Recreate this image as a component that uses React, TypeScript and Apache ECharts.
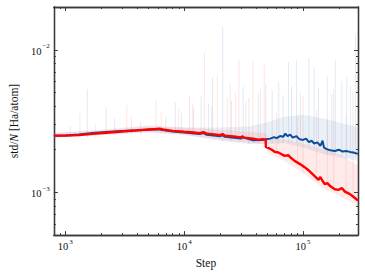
import React, { useEffect, useRef } from "react";
import * as echarts from "echarts";

const FONT = '"Liberation Serif", "DejaVu Serif", "Times New Roman", serif';

// Main (smoothed) curves
const redSteps = [800, 1000, 1300, 1700, 2200, 3000, 4000, 5000, 5800, 6200, 6600, 8000, 10000, 12000, 13500, 14500, 15500, 18000, 20000, 21000, 22000, 26000, 30000, 31000, 32000, 38000, 42000, 46000, 48500, 48600, 52000, 55000, 58000, 62000, 66000, 70000, 75000, 78000, 85000, 95000, 103000, 112000, 124000, 135000, 140000, 146000, 152000, 160000, 170000, 185000, 200000, 212000, 225000, 248000, 265000, 290000];
const redValues = [2.5e-3, 2.5e-3, 2.52e-3, 2.57e-3, 2.62e-3, 2.67e-3, 2.72e-3, 2.76e-3, 2.78e-3, 2.8e-3, 2.76e-3, 2.7e-3, 2.66e-3, 2.63e-3, 2.6e-3, 2.64e-3, 2.58e-3, 2.55e-3, 2.52e-3, 2.56e-3, 2.5e-3, 2.47e-3, 2.43e-3, 2.47e-3, 2.42e-3, 2.38e-3, 2.34e-3, 2.36e-3, 2.33e-3, 2.08e-3, 2.03e-3, 1.98e-3, 1.92e-3, 1.9e-3, 1.85e-3, 1.8e-3, 1.82e-3, 1.76e-3, 1.66e-3, 1.57e-3, 1.5e-3, 1.42e-3, 1.31e-3, 1.22e-3, 1.28e-3, 1.2e-3, 1.14e-3, 1.16e-3, 1.1e-3, 1.05e-3, 1.04e-3, 1.07e-3, 1.01e-3, 0.97e-3, 0.93e-3, 0.875e-3];

const blueSteps = [800, 1000, 1300, 1700, 2200, 3000, 4000, 5000, 6000, 6600, 8000, 10000, 13500, 14500, 15500, 20000, 21000, 22000, 30000, 31000, 38000, 45000, 49000, 53000, 57000, 60000, 64000, 68000, 71000, 74000, 78000, 82000, 88000, 93000, 100000, 106000, 112000, 118000, 124000, 132000, 140000, 146000, 150000, 160000, 170000, 185000, 200000, 215000, 230000, 248000, 265000, 290000];
const blueValues = [2.49e-3, 2.5e-3, 2.54e-3, 2.61e-3, 2.65e-3, 2.69e-3, 2.72e-3, 2.75e-3, 2.77e-3, 2.74e-3, 2.67e-3, 2.63e-3, 2.56e-3, 2.6e-3, 2.53e-3, 2.47e-3, 2.52e-3, 2.45e-3, 2.38e-3, 2.43e-3, 2.32e-3, 2.33e-3, 2.36e-3, 2.38e-3, 2.44e-3, 2.4e-3, 2.48e-3, 2.45e-3, 2.58e-3, 2.48e-3, 2.54e-3, 2.42e-3, 2.48e-3, 2.36e-3, 2.33e-3, 2.38e-3, 2.25e-3, 2.3e-3, 2.2e-3, 2.24e-3, 2.12e-3, 2.3e-3, 2.06e-3, 2.0e-3, 1.97e-3, 1.95e-3, 1.99e-3, 1.93e-3, 1.95e-3, 1.92e-3, 1.9e-3, 1.86e-3];

// Faint raw-data envelopes
const blueBandSteps = [800, 2000, 5000, 10000, 20000, 35000, 50000, 70000, 100000, 150000, 200000, 290000];
const blueBandLow = [2.42e-3, 2.52e-3, 2.64e-3, 2.52e-3, 2.3e-3, 2.18e-3, 2.18e-3, 2.22e-3, 2.05e-3, 1.85e-3, 1.76e-3, 1.66e-3];
const blueBandHigh = [2.6e-3, 2.72e-3, 2.9e-3, 2.85e-3, 2.85e-3, 2.9e-3, 3.1e-3, 3.4e-3, 3.5e-3, 3.3e-3, 3.1e-3, 2.85e-3];

const redBandSteps = [800, 2000, 5000, 10000, 20000, 35000, 48500, 50000, 70000, 100000, 150000, 200000, 290000];
const redBandLow = [2.42e-3, 2.52e-3, 2.64e-3, 2.52e-3, 2.35e-3, 2.22e-3, 2.18e-3, 1.9e-3, 1.65e-3, 1.36e-3, 1.06e-3, 0.95e-3, 0.8e-3];
const redBandHigh = [2.62e-3, 2.75e-3, 2.95e-3, 2.85e-3, 2.75e-3, 2.65e-3, 2.6e-3, 2.45e-3, 2.35e-3, 2.2e-3, 2.0e-3, 1.85e-3, 1.55e-3];

// Spikes in the raw data
const blueSpikeSteps = [1100, 1530, 2200, 2600, 4300, 7000, 8410, 9500, 12000, 13900, 16000, 17300, 21100, 25000, 31300, 35000, 42000, 48600, 55000, 62500, 68000, 75500, 80000, 88000, 95000, 112000, 124000, 135000, 160000, 175000, 187000, 212000, 233000, 250000, 276000];
const blueSpikePeaks = [2.9e-3, 5.3e-3, 3.94e-3, 3.3e-3, 3.1e-3, 3.4e-3, 4.27e-3, 3.6e-3, 3.9e-3, 4.75e-3, 4.2e-3, 6.4e-3, 1.45e-2, 4.4e-3, 5.5e-3, 4.6e-3, 5.0e-3, 5.8e-3, 5.2e-3, 6.0e-3, 4.8e-3, 8.2e-3, 5.5e-3, 8.5e-3, 5.0e-3, 8.8e-3, 7.5e-3, 5.4e-3, 6.5e-3, 4.9e-3, 8.5e-3, 6.0e-3, 6.5e-3, 5.6e-3, 1.27e-2];
const redSpikeSteps = [1325, 1800, 3290, 3600, 5780, 6400, 9000, 11100, 11800, 14800, 17000, 19000, 23000, 24400, 27000, 28900, 33000, 37800, 44000, 47100, 60000, 90000, 100000, 130000, 160000, 181000, 230000, 263000];
const redSpikePeaks = [3.55e-3, 3.0e-3, 4.1e-3, 3.4e-3, 4.5e-3, 3.7e-3, 3.9e-3, 4.75e-3, 4.2e-3, 9.5e-3, 4.0e-3, 6.5e-3, 4.6e-3, 5.8e-3, 5.0e-3, 8.5e-3, 4.4e-3, 8.3e-3, 5.3e-3, 7.9e-3, 3.6e-3, 3.4e-3, 4.75e-3, 3.8e-3, 3.2e-3, 5.3e-3, 3.5e-3, 5.0e-3];

// Tick positions
const xMajorTicks = [1000, 10000, 100000];
const xMinorTicks = [900, 2000, 3000, 4000, 5000, 6000, 7000, 8000, 9000, 20000, 30000, 40000, 50000, 60000, 70000, 80000, 90000, 200000];
const yMajorTicks = [0.001, 0.01];
const yMinorTicks = [0.0006, 0.0007, 0.0008, 0.0009, 0.002, 0.003, 0.004, 0.005, 0.006, 0.007, 0.008, 0.009];

const X_MIN = 800;
const X_MAX = 290000;
const Y_MIN = 0.0005;
const Y_MAX = 0.02;

const AXIS_COLOR = "#3a3a3a";

function lookup(steps: number[], vals: number[], x: number) {
  let idx = 0;
  for (let i = 0; i < steps.length; i++) {
    if (steps[i] <= x) idx = i;
  }
  return vals[idx];
}

function pow10Label(value: number) {
  const e = Math.round(Math.log10(value));
  const s = e < 0 ? "\u2212" + Math.abs(e) : String(e);
  return "{b|10}{s|" + s + "}";
}

const richLabel = {
  b: { fontSize: 10.5, fontFamily: FONT, color: "#111", lineHeight: 14, verticalAlign: "bottom" },
  s: { fontSize: 7, fontFamily: FONT, color: "#111", lineHeight: 14, verticalAlign: "top", padding: [0, 0, 5, 1] },
};

function xAxis(position: string, ticks: number[], len: number, labels: boolean, name?: string) {
  return {
    type: "log",
    logBase: 10,
    min: X_MIN,
    max: X_MAX,
    position,
    name: name || "",
    nameLocation: "middle",
    nameGap: 17,
    nameTextStyle: { fontFamily: FONT, fontSize: 11.5, color: "#111" },
    axisLine: { show: true, onZero: false, lineStyle: { color: AXIS_COLOR, width: 1.3 } },
    axisTick: { show: true, inside: true, length: len, customValues: ticks, lineStyle: { color: AXIS_COLOR, width: 1 } },
    axisLabel: labels
      ? { show: true, customValues: xMajorTicks, margin: 3, formatter: pow10Label, rich: richLabel }
      : { show: false },
    splitLine: { show: false },
    minorTick: { show: false },
  };
}

function yAxis(position: string, ticks: number[], len: number, labels: boolean, name?: string) {
  return {
    type: "log",
    logBase: 10,
    min: Y_MIN,
    max: Y_MAX,
    position,
    name: name || "",
    nameLocation: "middle",
    nameGap: 26,
    nameRotate: 90,
    nameTextStyle: {
      fontFamily: FONT,
      fontSize: 11.5,
      color: "#111",
      rich: { i: { fontFamily: FONT, fontSize: 11.5, fontStyle: "italic", color: "#111" } },
    },
    axisLine: { show: true, onZero: false, lineStyle: { color: AXIS_COLOR, width: 1.3 } },
    axisTick: { show: true, inside: true, length: len, customValues: ticks, lineStyle: { color: AXIS_COLOR, width: 1 } },
    axisLabel: labels
      ? { show: true, customValues: yMajorTicks, margin: 4, formatter: pow10Label, rich: richLabel }
      : { show: false },
    splitLine: { show: false },
    minorTick: { show: false },
  };
}

function bandSeries(steps: number[], low: number[], high: number[], fill: string) {
  return {
    type: "custom",
    coordinateSystem: "cartesian2d",
    xAxisIndex: 0,
    yAxisIndex: 0,
    silent: true,
    clip: true,
    z: 1,
    data: [[steps[0], low[0]]],
    renderItem: (_params: any, api: any) => {
      const pts: number[][] = [];
      for (let i = 0; i < steps.length; i++) pts.push(api.coord([steps[i], high[i]]));
      for (let i = steps.length - 1; i >= 0; i--) pts.push(api.coord([steps[i], low[i]]));
      return { type: "polygon", shape: { points: pts }, style: { fill } };
    },
  };
}

function spikeSeries(steps: number[], peaks: number[], baseSteps: number[], baseVals: number[], stroke: string) {
  return {
    type: "custom",
    coordinateSystem: "cartesian2d",
    xAxisIndex: 0,
    yAxisIndex: 0,
    silent: true,
    clip: true,
    z: 2,
    data: steps.map((s, i) => [s, peaks[i]]),
    renderItem: (_params: any, api: any) => {
      const x = api.value(0);
      const y = api.value(1);
      const base = lookup(baseSteps, baseVals, x);
      const p1 = api.coord([x, base]);
      const p2 = api.coord([x, y]);
      return {
        type: "line",
        shape: { x1: p1[0], y1: p1[1], x2: p2[0], y2: p2[1] },
        style: { stroke, lineWidth: 1 },
      };
    },
  };
}

export default function App() {
  const ref = useRef<HTMLDivElement>(null);
  useEffect(() => {
    if (!ref.current) return;
    const chart = echarts.init(ref.current, undefined, { renderer: "svg" });
    chart.setOption({
      animation: false,
      backgroundColor: "#ffffff",
      grid: { left: 45, right: 7, top: 7, bottom: 37, containLabel: false },
      xAxis: [
        xAxis("bottom", xMajorTicks, 4, true, "Step"),
        xAxis("bottom", xMinorTicks, 2, false),
        xAxis("top", xMajorTicks, 4, false),
        xAxis("top", xMinorTicks, 2, false),
      ],
      yAxis: [
        yAxis("left", yMajorTicks, 4, true, "std/{i|N} [Ha/atom]"),
        yAxis("left", yMinorTicks, 2, false),
        yAxis("right", yMajorTicks, 4, false),
        yAxis("right", yMinorTicks, 2, false),
      ],
      series: [
        bandSeries(blueBandSteps, blueBandLow, blueBandHigh, "rgba(110,150,200,0.14)"),
        bandSeries(redBandSteps, redBandLow, redBandHigh, "rgba(255,90,90,0.13)"),
        spikeSeries(blueSpikeSteps, blueSpikePeaks, blueBandSteps, blueBandLow, "rgba(120,160,210,0.22)"),
        spikeSeries(redSpikeSteps, redSpikePeaks, redBandSteps, redBandLow, "rgba(255,120,120,0.2)"),
        {
          type: "line",
          xAxisIndex: 0,
          yAxisIndex: 0,
          z: 3,
          showSymbol: false,
          silent: true,
          data: blueSteps.map((s, i) => [s, blueValues[i]]),
          lineStyle: { color: "#0d4d97", width: 2 },
        },
        {
          type: "line",
          xAxisIndex: 0,
          yAxisIndex: 0,
          z: 4,
          showSymbol: false,
          silent: true,
          data: redSteps.map((s, i) => [s, redValues[i]]),
          lineStyle: { color: "#ff0000", width: 2.4 },
        },
      ],
    });
    return () => chart.dispose();
  }, []);
  return <div ref={ref} style={{ width: 365, height: 274, position: "absolute", left: 0, top: 0 }} />;
}
